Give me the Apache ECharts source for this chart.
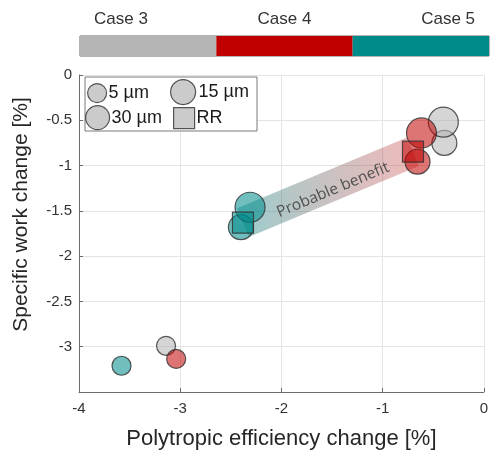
<!DOCTYPE html>
<html>
<head>
<meta charset="utf-8">
<script src="https://cdn.jsdelivr.net/npm/echarts@6/dist/echarts.min.js"></script>
<style>
  html, body { margin: 0; padding: 0; background: #fff; }
  #chart { width: 491px; height: 455px; }
</style>
</head>
<body>
<div id="chart"></div>
<script>
// Cases, in colour-bar order
const cases = ['Case 3', 'Case 4', 'Case 5'];
const caseTicks = [0.3, 1.5, 2.7];
const caseSpan = [1, 1, 1];

// Polytropic efficiency change [%] / specific work change [%] per roughness size
const eff5  = [-3.14, -3.04, -3.58];
const work5 = [-2.99, -3.135, -3.21];
const eff15  = [-0.40, -0.616, -2.31];
const work15 = [-0.52, -0.64, -1.46];
const eff30  = [-0.39, -0.655, -2.40];
const work30 = [-0.75, -0.957, -1.68];
const effRR  = [null, -0.70, -2.38];
const workRR = [null, -0.847, -1.63];

const xTicks = [-4, -3, -2, -1, 0];
const yTicks = [0, -0.5, -1, -1.5, -2, -2.5, -3, -3.5];

const caseFill = ['rgba(180,180,180,0.7)', 'rgba(192,0,0,0.68)', 'rgba(0,139,139,0.7)'];
const caseSolid = ['#b4b4b4', '#c00000', '#008b8b'];
const edge = '#2e2e2e';
const FONT = '"Liberation Sans", Arial, sans-serif';

function points(xs, ys) {
  const out = [];
  xs.forEach((x, i) => {
    if (x === null) return;
    out.push({ value: [x, ys[i]], itemStyle: { color: caseFill[i] } });
  });
  return out;
}

function sizeSeries(name, symbol, size, xs, ys) {
  return {
    name, type: 'scatter', xAxisIndex: 0, yAxisIndex: 0,
    symbol, symbolSize: size,
    itemStyle: { color: 'rgba(190,190,190,1)', borderColor: edge, borderWidth: 1.2 },
    data: points(xs, ys), z: 5, silent: true
  };
}

const chart = echarts.init(document.getElementById('chart'), null, { renderer: 'canvas' });

function legendItem(name, icon, w, h, left, top) {
  return {
    data: [name], left, top, icon, itemWidth: w, itemHeight: h, itemGap: 0,
    selectedMode: false, padding: 0,
    itemStyle: { color: '#bebebe', borderColor: edge, borderWidth: 1.2 },
    textStyle: { fontFamily: FONT, fontSize: 18, color: '#1a1a1a', padding: [0, 0, 0, -3] }
  };
}

const option = {
  backgroundColor: '#fff',
  animation: false,
  grid: [
    { left: 79, right: 3, top: 75, bottom: 62 },
    { left: 80, right: 2, top: 36, height: 20, show: true, borderColor: '#666', borderWidth: 1, backgroundColor: 'transparent' }
  ],
  xAxis: [
    {
      type: 'value', gridIndex: 0, min: -4, max: 0, interval: 1,
      name: 'Polytropic efficiency change [%]', nameLocation: 'middle', nameGap: 36,
      nameTextStyle: { fontFamily: FONT, fontSize: 22, color: '#262626' },
      axisLine: { show: true, onZero: false, lineStyle: { color: '#6b6b6b', width: 1 } },
      axisTick: { show: true, inside: true, length: 4, lineStyle: { color: '#6b6b6b' } },
      axisLabel: { fontFamily: FONT, fontSize: 15, color: '#333', margin: 9,
        formatter: v => (xTicks.includes(v) ? String(v) : '') },
      splitLine: { show: true, lineStyle: { color: '#e4e4e4', width: 1 } }
    },
    {
      type: 'value', gridIndex: 1, min: 0, max: 3, position: 'top',
      axisLine: { show: false },
      axisTick: { show: true, inside: true, length: 3, customValues: caseTicks, lineStyle: { color: '#333' } },
      axisLabel: { show: true, customValues: caseTicks, fontFamily: FONT, fontSize: 17, color: '#333', margin: 8,
        formatter: v => cases[caseTicks.indexOf(v)] || '' },
      splitLine: { show: false }
    }
  ],
  yAxis: [
    {
      type: 'value', gridIndex: 0, min: -3.5, max: 0, interval: 0.5,
      name: 'Specific work change [%]', nameLocation: 'middle', nameGap: 47,
      nameTextStyle: { fontFamily: FONT, fontSize: 21, color: '#262626', padding: [0, 0, 0, 38] },
      axisLine: { show: true, onZero: false, lineStyle: { color: '#6b6b6b', width: 1 } },
      axisTick: { show: true, inside: true, length: 4, lineStyle: { color: '#6b6b6b' } },
      axisLabel: { fontFamily: FONT, fontSize: 15, color: '#333', margin: 7, showMinLabel: false,
        formatter: v => (yTicks.includes(v) ? String(v) : '') },
      splitLine: { show: true, lineStyle: { color: '#e4e4e4', width: 1 } }
    },
    {
      type: 'category', gridIndex: 1, data: ['bar'],
      axisLine: { show: false }, axisTick: { show: false }, axisLabel: { show: false }
    }
  ],
  legend: [
    legendItem('5 µm', 'circle', 19, 19, 87, 83),
    legendItem('15 µm', 'circle', 27, 25, 170, 79),
    legendItem('30 µm', 'circle', 24, 25, 85, 105),
    legendItem('RR', 'rect', 21, 21, 173, 107)
  ],
  series: [
    // colour bar segments
    ...cases.map((c, i) => ({
      name: c, type: 'bar', xAxisIndex: 1, yAxisIndex: 1, stack: 'bar',
      barWidth: '100%', data: [caseSpan[i]], silent: true,
      itemStyle: { color: caseSolid[i] }, z: 1
    })),
    // band linking the two RR points
    {
      name: 'benefit', type: 'line', xAxisIndex: 0, yAxisIndex: 0,
      data: [[effRR[2], workRR[2]], [effRR[1], workRR[1]]],
      symbol: 'none', silent: true, z: 2,
      lineStyle: {
        width: 31, cap: 'butt',
        color: new echarts.graphic.LinearGradient(0, 0, 1, 0, [
          { offset: 0, color: 'rgba(0,139,139,0.42)' },
          { offset: 1, color: 'rgba(220,40,40,0.32)' }
        ])
      }
    },
    sizeSeries('5 µm', 'circle', 19, eff5, work5),
    sizeSeries('30 µm', 'circle', 25, eff30, work30),
    sizeSeries('15 µm', 'circle', 30, eff15, work15),
    sizeSeries('RR', 'rect', 21, effRR, workRR)
  ]
};

chart.setOption(option);

// Legend frame and the rotated band caption
const a = chart.convertToPixel({ gridIndex: 0 }, [effRR[2], workRR[2]]);
const b = chart.convertToPixel({ gridIndex: 0 }, [effRR[1], workRR[1]]);
const ang = Math.atan2(a[1] - b[1], b[0] - a[0]);
const mx = (a[0] + b[0]) / 2 + Math.sin(ang) * 3 + 4;
const my = (a[1] + b[1]) / 2 + Math.cos(ang) * 3;

chart.setOption({
  graphic: [
    {
      type: 'rect', z: 0, silent: true,
      shape: { x: 85, y: 77, width: 172, height: 54 },
      style: { fill: '#fff', stroke: '#7a7a7a', lineWidth: 1 }
    },
    {
      type: 'text', x: mx, y: my, rotation: ang, z: 3, silent: true,
      style: {
        text: 'Probable benefit', fill: '#505050', fontSize: 15.5,
        fontFamily: '"Open Sans", Lato, sans-serif',
        align: 'center', verticalAlign: 'middle'
      }
    }
  ]
});
</script>
</body>
</html>
